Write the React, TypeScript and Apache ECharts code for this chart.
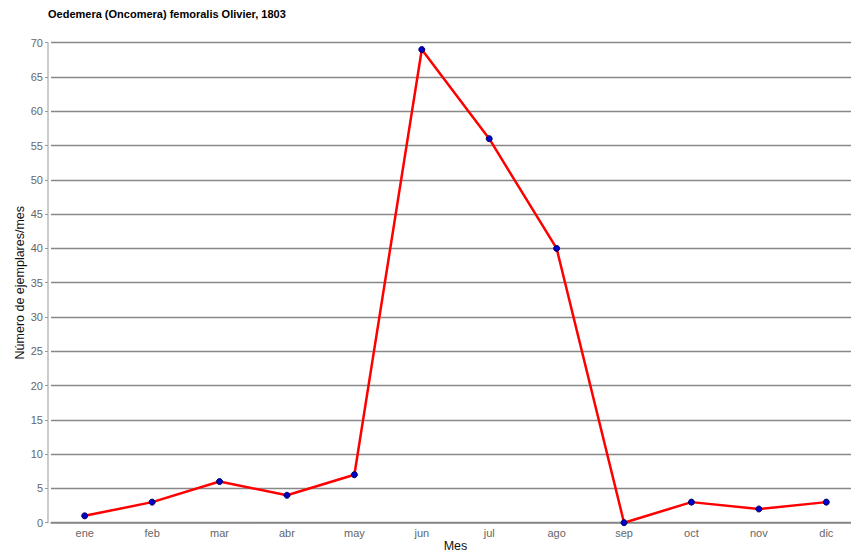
import React, { useEffect, useRef } from "react";
import * as echarts from "echarts";

const titleText = "Oedemera (Oncomera) femoralis Olivier, 1803";
const months = ["ene", "feb", "mar", "abr", "may", "jun", "jul", "ago", "sep", "oct", "nov", "dic"];
const counts = [1, 3, 6, 4, 7, 69, 56, 40, 0, 3, 2, 3];
const yAxisName = "Número de ejemplares/mes";
const xAxisName = "Mes";

export default function App() {
  const ref = useRef<HTMLDivElement>(null);
  useEffect(() => {
    if (!ref.current) return;
    const chart = echarts.init(ref.current, undefined, { renderer: "svg" });
    const font = "'Liberation Sans', Arial, sans-serif";
    chart.setOption({
      animation: false,
      backgroundColor: "#ffffff",
      textStyle: { fontFamily: font },
      title: {
        text: titleText,
        left: 43,
        top: 3,
        textStyle: { fontSize: 11, fontWeight: "bold", color: "#000", fontFamily: font },
      },
      grid: {
        left: 51,
        top: 42.7,
        width: 809,
        height: 480,
        containLabel: false,
        outerBoundsMode: "none",
      },
      xAxis: {
        type: "category",
        data: months,
        boundaryGap: true,
        name: xAxisName,
        nameLocation: "middle",
        nameGap: 17,
        nameMoveOverlap: false,
        nameTextStyle: { fontSize: 12.5, color: "#111", fontFamily: font },
        axisLine: { lineStyle: { color: "#888", width: 1.5 } },
        axisTick: { alignWithLabel: true, length: 4, lineStyle: { color: "#888" } },
        axisLabel: { color: "#666", fontSize: 11, margin: 5, fontFamily: font },
        splitLine: { show: false },
      },
      yAxis: {
        type: "value",
        min: 0,
        max: 70,
        interval: 5,
        offset: 3,
        name: yAxisName,
        nameLocation: "middle",
        nameGap: 22,
        nameMoveOverlap: false,
        nameTextStyle: { fontSize: 12.5, color: "#111", fontFamily: font },
        axisLine: { show: true, lineStyle: { color: "#bbb", width: 1.5 } },
        axisTick: { show: true, length: 3, lineStyle: { color: "#999" } },
        axisLabel: { color: "#666", fontSize: 11, margin: 5, fontFamily: font },
        splitLine: { show: true, lineStyle: { color: "#888", width: 1.3 } },
      },
      series: [
        {
          type: "line",
          data: counts,
          symbol: "circle",
          symbolSize: 6,
          lineStyle: { color: "#ff0000", width: 2.5 },
          itemStyle: { color: "#0000cc", borderColor: "#000055", borderWidth: 1 },
          z: 5,
        },
      ],
    });
    return () => chart.dispose();
  }, []);
  return (
    <div
      ref={ref}
      style={{ position: "fixed", left: 0, top: 0, width: 851, height: 555, background: "#fff" }}
    />
  );
}
